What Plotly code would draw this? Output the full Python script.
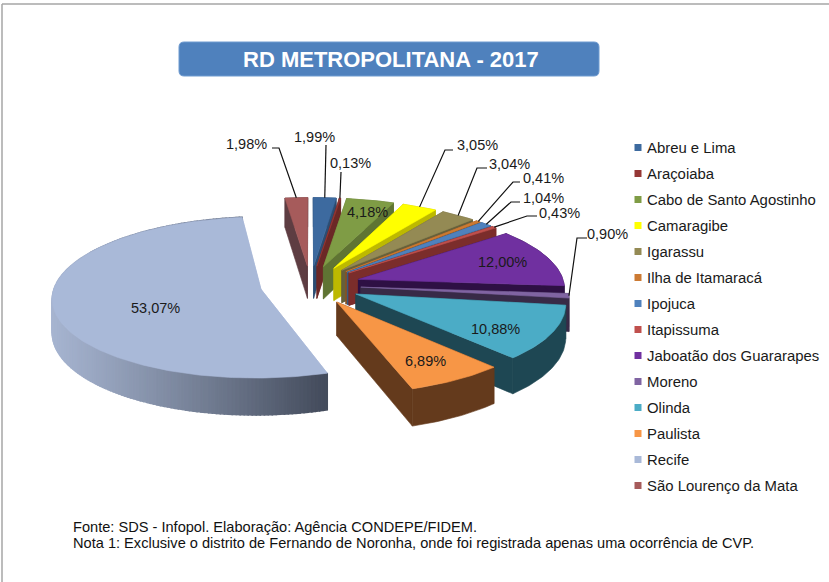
import math
import plotly.graph_objects as go

# ---------- data ----------
categories = ["Abreu e Lima", "Araçoiaba", "Cabo de Santo Agostinho", "Camaragibe", "Igarassu",
              "Ilha de Itamaracá", "Ipojuca", "Itapissuma", "Jaboatão dos Guararapes", "Moreno",
              "Olinda", "Paulista", "Recife", "São Lourenço da Mata"]
values = [1.99, 0.13, 4.18, 3.05, 3.04, 0.41, 1.04, 0.43, 12.00, 0.90, 10.88, 6.89, 53.07, 1.98]
labels = ["1,99%", "0,13%", "4,18%", "3,05%", "3,04%", "0,41%", "1,04%", "0,43%", "12,00%", "0,90%",
          "10,88%", "6,89%", "53,07%", "1,98%"]

# ---------- styles ----------
top_colors = ["#3D6A9F", "#953735", "#7F9C45", "#FFFF00", "#948A54", "#CC7A33", "#4F81BD",
              "#C0504D", "#7030A0", "#8064A2", "#4BACC6", "#F79646", "#A9B9D8", "#A65B5B"]
side_colors = ["#2C4D73", "#6B2826", "#5F7433", "#BDB900", "#67603B", "#8A5222", "#365A83",
               "#7B2D2B", "#2E1044", "#382A47", "#1E4753", "#643A1C", "#A9B9D8", "#5E3D42"]
FONT = "Liberation Sans"
TEXT = "#1a1a1a"

# 3-D pie projection settings (pixels)
CX, CY, RX, RY = 310.5, 285, 206, 79
PERSP, EXPLODE, DEPTH = 0.1, 0.245, 33

# label placement: text centre x, y, elbow points of the leader (none = inside the slice)
label_place = {
    0: (314, 137, [(326, 145)]),
    1: (350, 163, [(341, 172)]),
    2: (367, 212, []),
    3: (477, 145, [(453, 150), (445, 150)]),
    4: (509, 164, [(487, 168), (477, 168)]),
    5: (543, 178, [(520, 182), (513, 182)]),
    6: (543, 198, [(520, 202), (511, 202)]),
    7: (559, 213, [(537, 216), (527, 216)]),
    8: (502, 262, []),
    9: (607, 234, [(587, 238), (577, 238)]),
    10: (495, 329, []),
    11: (425, 361, []),
    12: (155, 308, []),
    13: (246, 144, [(272, 148), (279, 148)]),
}


def project(u, v):
    s = 1 / (1 + PERSP * v)
    return CX + RX * u * s, CY - RY * v * s, s


def slice_point(mid, r, t):
    a, m = math.radians(t), math.radians(mid)
    return project(EXPLODE * math.sin(m) + r * math.sin(a), EXPLODE * math.cos(m) + r * math.cos(a))


def poly(fig, pts, color, name=None, lw=0.6):
    xs = [p[0] for p in pts] + [pts[0][0]]
    ys = [p[1] for p in pts] + [pts[0][1]]
    fig.add_trace(go.Scatter(x=xs, y=ys, mode="lines", fill="toself", fillcolor=color,
                             line=dict(color=color, width=lw), showlegend=False,
                             name=name or "", hoverinfo="name" if name else "skip"))


fig = go.Figure()

total = sum(values)
spans, acc = [], 0.0
for val in values:
    spans.append((acc / total * 360, (acc + val) / total * 360))
    acc += val
mids = [(a + b) / 2 for a, b in spans]

for i in sorted(range(len(values)), key=lambda k: -math.cos(math.radians(mids[k]))):
    t0, t1 = spans[i]
    mid = mids[i]
    n = max(3, int(t1 - t0))
    ts = [t0 + (t1 - t0) * k / n for k in range(n + 1)]
    arc = [slice_point(mid, 1, t) for t in ts]
    apex = slice_point(mid, 0, t0)
    low = lambda p: (p[0], p[1] + DEPTH * p[2])
    # radial walls
    poly(fig, [apex, arc[0], low(arc[0]), low(apex)], side_colors[i])
    poly(fig, [apex, arc[-1], low(arc[-1]), low(apex)], side_colors[i])
    # outer wall
    if categories[i] == "Recife":
        # gradient wall, light on the left, dark towards the right
        c0, c1 = (166, 180, 208), (66, 74, 90)
        xmin, xmax = min(p[0] for p in arc), max(p[0] for p in arc)
        for a, b in sorted(zip(arc[:-1], arc[1:]), key=lambda s: s[0][0]):
            f = (min(a[0], b[0]) - xmin) / (xmax - xmin)
            f = f ** 1.1
            col = "rgb(%d,%d,%d)" % tuple(round(c0[j] + (c1[j] - c0[j]) * f) for j in range(3))
            poly(fig, [a, b, low(b), low(a)], col, lw=1.5)
    else:
        poly(fig, arc + [low(p) for p in reversed(arc)], side_colors[i])
    # top face
    poly(fig, [apex] + arc, top_colors[i], name=f"{categories[i]}: {labels[i]}")

# leader lines and labels
for i, lab in enumerate(labels):
    x, y, elbows = label_place[i]
    if elbows:
        end = slice_point(mids[i], 1, mids[i])
        pts = elbows + [(end[0], end[1])]
        fig.add_trace(go.Scatter(x=[p[0] for p in pts], y=[p[1] for p in pts], mode="lines",
                                 line=dict(color="#111111", width=1.2), showlegend=False, hoverinfo="skip"))
    fig.add_annotation(x=x, y=y, text=lab, showarrow=False, xanchor="center", yanchor="middle",
                       font=dict(family=FONT, size=14.5, color=TEXT))

# legend
LEG_X, LEG_Y, LEG_STEP = 638, 147.5, 26
leg_y = [LEG_Y + LEG_STEP * i for i in range(len(categories))]
fig.add_trace(go.Scatter(x=[LEG_X] * len(categories), y=leg_y, mode="markers",
                         marker=dict(symbol="square", size=7, color=top_colors),
                         showlegend=False, hoverinfo="skip"))
for cat, y in zip(categories, leg_y):
    fig.add_annotation(x=LEG_X + 9, y=y, text=cat, showarrow=False, xanchor="left", yanchor="middle",
                       xshift=-2, font=dict(family=FONT, size=14.9, color=TEXT))

# title box
bx0, bx1, by0, by1, r = 179, 599, 42, 76, 5
fig.add_shape(type="path",
              path=f"M{bx0+r},{by0} L{bx1-r},{by0} Q{bx1},{by0} {bx1},{by0+r} L{bx1},{by1-r} Q{bx1},{by1} {bx1-r},{by1} "
                   f"L{bx0+r},{by1} Q{bx0},{by1} {bx0},{by1-r} L{bx0},{by0+r} Q{bx0},{by0} {bx0+r},{by0} Z",
              fillcolor="#4F81BD", line=dict(color="#6F9BD0", width=1), layer="below")
fig.add_annotation(x=390.5, y=59, text="<b>RD METROPOLITANA - 2017</b>", showarrow=False,
                   font=dict(family=FONT, size=22, color="#FFFFFF"))

# frame
fig.add_shape(type="line", x0=2, x1=829, y0=4, y1=4, line=dict(color="#A6A6A6", width=1.5))
fig.add_shape(type="line", x0=2, x1=2, y0=4, y1=582, line=dict(color="#A6A6A6", width=1.5))

# footer
for y, line in [(526.5, "Fonte: SDS - Infopol. Elaboração: Agência CONDEPE/FIDEM."),
                (543, "Nota 1: Exclusive o distrito de Fernando de Noronha, onde foi registrada apenas uma ocorrência de CVP.")]:
    fig.add_annotation(x=71, y=y, text=line, showarrow=False, xanchor="left", yanchor="middle",
                       font=dict(family=FONT, size=14.6, color="#111111"))

fig.update_layout(width=829, height=582, margin=dict(l=0, r=0, t=0, b=0),
                  paper_bgcolor="white", plot_bgcolor="white", showlegend=False,
                  xaxis=dict(range=[0, 829], visible=False, fixedrange=True),
                  yaxis=dict(range=[582, 0], visible=False, fixedrange=True))
fig.write_html("out.html", config={"displayModeBar": False},
               post_script="document.body.style.margin='0';document.documentElement.style.overflow='hidden';")
